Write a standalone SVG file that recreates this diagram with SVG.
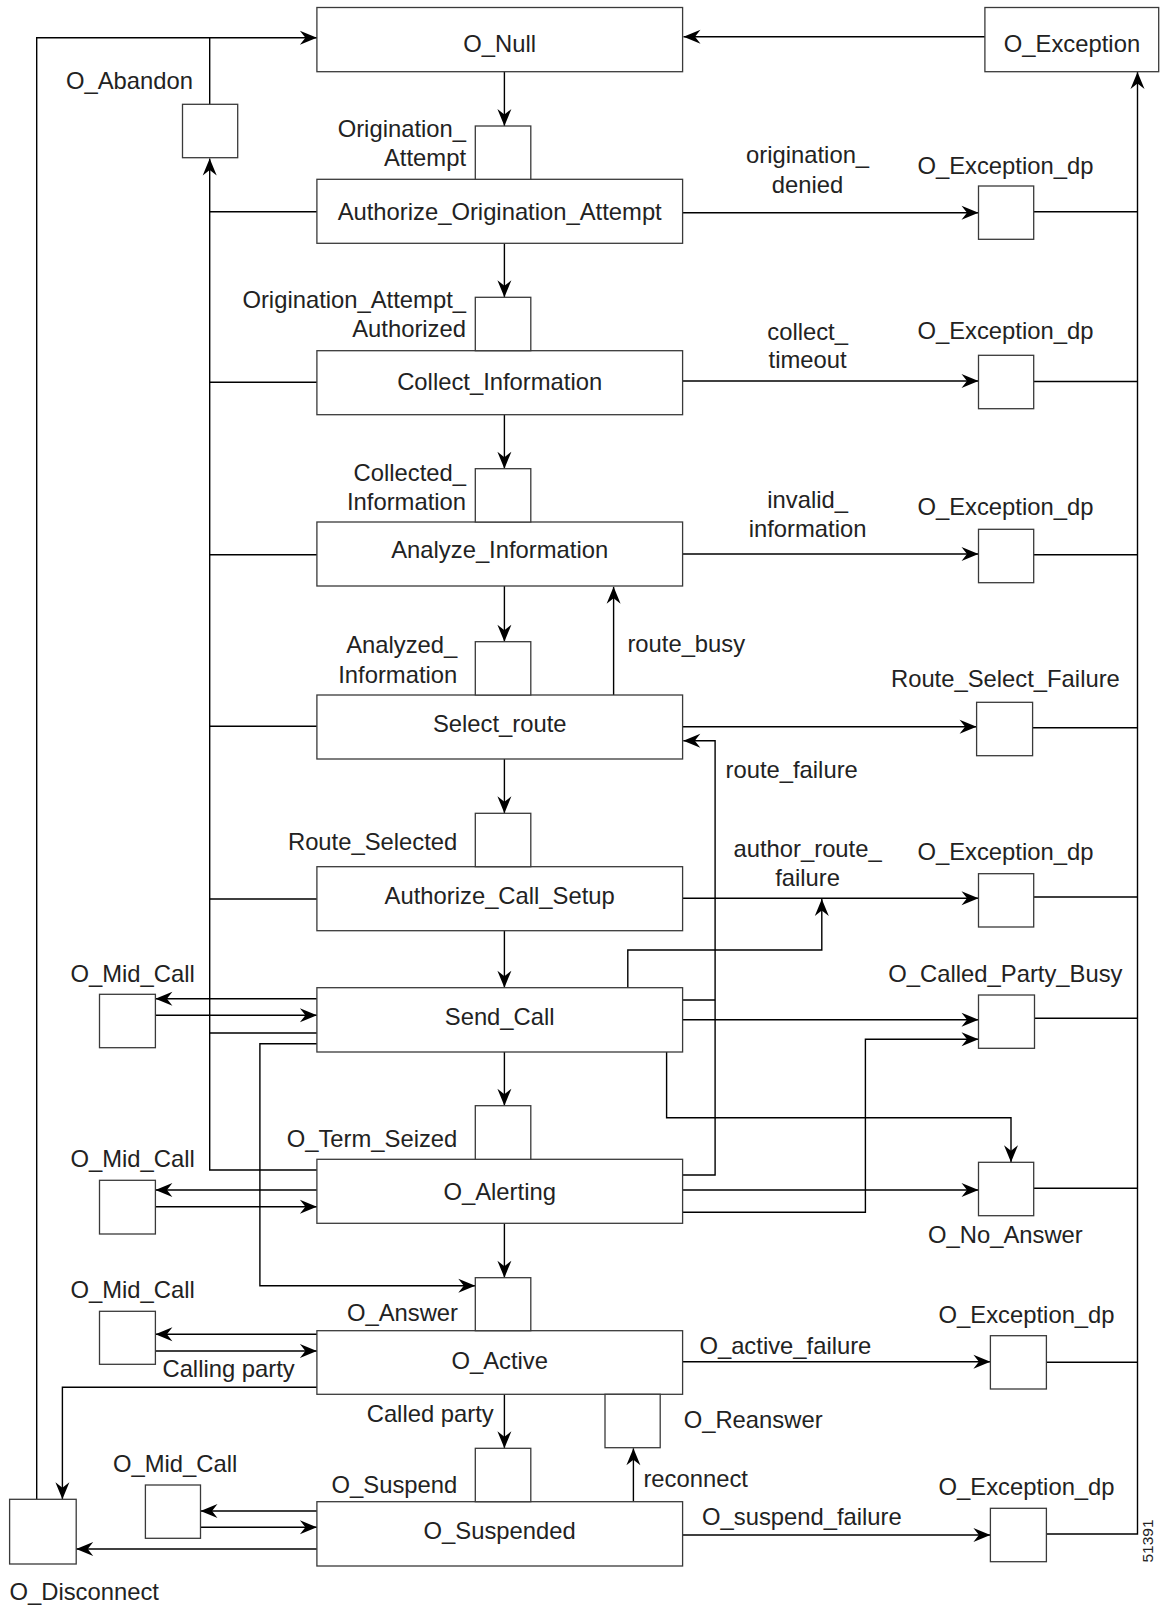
<svg xmlns="http://www.w3.org/2000/svg" width="1165" height="1606" viewBox="0 0 1165 1606">
<defs>
<marker id="ah" viewBox="-18 -8 19 16" refX="0" refY="0" markerWidth="19" markerHeight="16" markerUnits="userSpaceOnUse" orient="auto">
<path d="M0,0 L-17,-7 L-11.5,0 L-17,7 Z" fill="#000"/>
</marker>
</defs>
<style>
rect{fill:#fff;stroke:#3a3a3a;stroke-width:1.3}
text{font-family:"Liberation Sans",Arial,sans-serif;font-size:23.8px;fill:#222}
.c{text-anchor:middle}
.r{text-anchor:end}
#connectors path{fill:none;stroke:#000;stroke-width:1.4}
.a{marker-end:url(#ah)}
</style>
<rect x="0" y="0" width="1165" height="1606" style="fill:#fff;stroke:none"/>

<g id="connectors">
<path class="a" d="M984.9,36.7 H683.5"/>
<path class="a" d="M36.7,1499.3 V37.7 H316.9"/>
<path d="M209.7,104.3 V37.7"/>
<path class="a" d="M316.9,1170 H209.7 V158.5"/>
<path d="M209.7,211.7 H316.9 M209.7,382.3 H316.9 M209.7,554.7 H316.9 M209.7,726.3 H316.9 M209.7,899 H316.9 M209.7,1033 H316.9"/>
<path class="a" d="M504.4,71.7 V126"/>
<path class="a" d="M504.4,243.3 V297.3"/>
<path class="a" d="M504.4,414.7 V468.7"/>
<path class="a" d="M504.4,586 V641.7"/>
<path class="a" d="M504.4,759 V813.3"/>
<path class="a" d="M504.4,930.7 V987.7"/>
<path class="a" d="M504.4,1052 V1105.7"/>
<path class="a" d="M504.4,1223.3 V1277.7"/>
<path class="a" d="M504.4,1394.3 V1448.3"/>
<path class="a" d="M682.6,212.7 H978.5"/>
<path class="a" d="M682.6,381 H978.5"/>
<path class="a" d="M682.6,554 H978.5"/>
<path class="a" d="M682.6,726.7 H976.6"/>
<path class="a" d="M682.6,898.3 H978.5"/>
<path class="a" d="M682.6,1019.7 H978.5"/>
<path class="a" d="M682.6,1190 H978.5"/>
<path class="a" d="M682.6,1361.7 H990.4"/>
<path class="a" d="M682.6,1535 H990.4"/>
<path d="M1033.7,211.7 H1137.5 M1033.7,381.5 H1137.5 M1033.7,554.7 H1137.5 M1032.6,727.7 H1137.5 M1033.7,897 H1137.5 M1033.7,1018.3 H1137.5 M1033.7,1188.3 H1137.5 M1046.4,1362.3 H1137.5"/>
<path class="a" d="M1046.4,1534 H1137.5 V72"/>
<path class="a" d="M613.6,695 V586.8"/>
<path d="M682.6,1000 H715.1"/>
<path class="a" d="M682.6,1175 H715.1 V740.7 H683.3"/>
<path class="a" d="M627.8,987.7 V950 H821.8 V899"/>
<path class="a" d="M682.6,1212.3 H865.4 V1039.3 H978.5"/>
<path class="a" d="M666.6,1052 V1117.7 H1011 V1162.3"/>
<path class="a" d="M316.9,998.7 H155.4"/>
<path class="a" d="M155.4,1015.3 H316.9"/>
<path class="a" d="M316.9,1043.7 H259.9 V1285.7 H475.3"/>
<path class="a" d="M316.9,1190 H155.4"/>
<path class="a" d="M155.4,1206.7 H316.9"/>
<path class="a" d="M316.9,1334.3 H155.4"/>
<path class="a" d="M155.4,1351 H316.9"/>
<path class="a" d="M316.9,1387.3 H62.4 V1499.3"/>
<path class="a" d="M316.9,1511 H200.5"/>
<path class="a" d="M200.5,1527.3 H316.9"/>
<path class="a" d="M316.9,1549 H76.2"/>
<path class="a" d="M633.4,1501.7 V1448.3"/>
</g>

<g id="edge-labels">
<text class="c" x="807.6" y="163.3">origination_</text>
<text class="c" x="807.6" y="192.7">denied</text>
<text class="c" x="807.6" y="340">collect_</text>
<text class="c" x="807.6" y="368.3">timeout</text>
<text class="c" x="807.6" y="508.3">invalid_</text>
<text class="c" x="807.6" y="536.7">information</text>
<text class="c" x="807.6" y="856.7">author_route_</text>
<text class="c" x="807.6" y="886">failure</text>
<text x="627.4" y="651.7">route_busy</text>
<text x="725.5" y="778.3">route_failure</text>
<text class="c" x="228.6" y="1376.7">Calling party</text>
<text class="r" x="493.7" y="1421.7">Called party</text>
<text x="643.4" y="1487.3">reconnect</text>
<text x="699.4" y="1354">O_active_failure</text>
<text x="702" y="1525">O_suspend_failure</text>
</g>

<g id="O_Null"><rect x="316.9" y="7.5" width="365.7" height="64.2"/><text class="c" x="499.7" y="51.7">O_Null</text></g>
<g id="O_Exception"><rect x="984.9" y="7.5" width="173.8" height="64.2"/><text class="c" x="1072" y="51.7">O_Exception</text></g>
<g id="Authorize_Origination_Attempt"><rect x="316.9" y="179.3" width="365.7" height="64"/><text class="c" x="499.7" y="220">Authorize_Origination_Attempt</text></g>
<g id="Collect_Information"><rect x="316.9" y="350.7" width="365.7" height="64"/><text class="c" x="499.7" y="390">Collect_Information</text></g>
<g id="Analyze_Information"><rect x="316.9" y="522" width="365.7" height="64"/><text class="c" x="499.7" y="558.3">Analyze_Information</text></g>
<g id="Select_route"><rect x="316.9" y="695" width="365.7" height="64"/><text class="c" x="499.7" y="731.7">Select_route</text></g>
<g id="Authorize_Call_Setup"><rect x="316.9" y="866.7" width="365.7" height="64"/><text class="c" x="499.7" y="904">Authorize_Call_Setup</text></g>
<g id="Send_Call"><rect x="316.9" y="987.7" width="365.7" height="64.3"/><text class="c" x="499.7" y="1025.3">Send_Call</text></g>
<g id="O_Alerting"><rect x="316.9" y="1159.3" width="365.7" height="64"/><text class="c" x="499.7" y="1200">O_Alerting</text></g>
<g id="O_Active"><rect x="316.9" y="1330.7" width="365.7" height="63.6"/><text class="c" x="499.7" y="1369.3">O_Active</text></g>
<g id="O_Suspended"><rect x="316.9" y="1501.7" width="365.7" height="64.3"/><text class="c" x="499.7" y="1539.3">O_Suspended</text></g>

<g id="dp_Origination_Attempt"><rect x="475.3" y="126" width="55.5" height="53.3"/><text class="r" x="466" y="136.7">Origination_</text><text class="r" x="466" y="165.7">Attempt</text></g>
<g id="dp_Origination_Attempt_Authorized"><rect x="475.3" y="297.3" width="55.5" height="53.4"/><text class="r" x="466" y="308.3">Origination_Attempt_</text><text class="r" x="466" y="337.3">Authorized</text></g>
<g id="dp_Collected_Information"><rect x="475.3" y="468.7" width="55.5" height="53.3"/><text class="r" x="466" y="481">Collected_</text><text class="r" x="466" y="510">Information</text></g>
<g id="dp_Analyzed_Information"><rect x="475.3" y="641.7" width="55.5" height="53.3"/><text class="r" x="457.3" y="653.3">Analyzed_</text><text class="r" x="457.3" y="682.7">Information</text></g>
<g id="dp_Route_Selected"><rect x="475.3" y="813.3" width="55.5" height="53.4"/><text class="r" x="457.3" y="850">Route_Selected</text></g>
<g id="dp_O_Term_Seized"><rect x="475.3" y="1105.7" width="55.5" height="53.6"/><text class="r" x="457.3" y="1147.3">O_Term_Seized</text></g>
<g id="dp_O_Answer"><rect x="475.3" y="1277.7" width="55.5" height="53"/><text class="r" x="458" y="1320.7">O_Answer</text></g>
<g id="dp_O_Suspend"><rect x="475.3" y="1448.3" width="55.5" height="53.4"/><text class="r" x="457.3" y="1492.7">O_Suspend</text></g>
<g id="dp_O_Reanswer"><rect x="605" y="1394.3" width="55.2" height="53.4"/><text x="683.7" y="1427.7">O_Reanswer</text></g>

<g id="dp_O_Abandon"><rect x="182.5" y="104.3" width="55.2" height="53.4"/><text class="c" x="129.5" y="89.3">O_Abandon</text></g>
<g id="dp_O_Mid_Call_1"><rect x="99.5" y="994.3" width="55.9" height="53.4"/><text class="c" x="132.6" y="981.7">O_Mid_Call</text></g>
<g id="dp_O_Mid_Call_2"><rect x="99.5" y="1180.3" width="55.9" height="53.7"/><text class="c" x="132.6" y="1166.7">O_Mid_Call</text></g>
<g id="dp_O_Mid_Call_3"><rect x="99.5" y="1311.3" width="55.9" height="53"/><text class="c" x="132.6" y="1298.3">O_Mid_Call</text></g>
<g id="dp_O_Mid_Call_4"><rect x="145.4" y="1485" width="55.1" height="53.3"/><text class="c" x="175.1" y="1471.7">O_Mid_Call</text></g>
<g id="dp_O_Disconnect"><rect x="9.6" y="1499.3" width="66.6" height="64.7"/><text class="c" x="84.2" y="1600">O_Disconnect</text></g>

<g id="dp_O_Exception_dp_1"><rect x="978.5" y="186" width="55.2" height="53.3"/><text class="c" x="1005.4" y="174">O_Exception_dp</text></g>
<g id="dp_O_Exception_dp_2"><rect x="978.5" y="355.3" width="55.2" height="53.4"/><text class="c" x="1005.4" y="339.3">O_Exception_dp</text></g>
<g id="dp_O_Exception_dp_3"><rect x="978.5" y="529.3" width="55.2" height="53.4"/><text class="c" x="1005.4" y="515">O_Exception_dp</text></g>
<g id="dp_Route_Select_Failure"><rect x="976.6" y="702.3" width="56" height="53.4"/><text class="c" x="1005.4" y="687.3">Route_Select_Failure</text></g>
<g id="dp_O_Exception_dp_4"><rect x="978.5" y="873.7" width="55.2" height="53.3"/><text class="c" x="1005.4" y="860">O_Exception_dp</text></g>
<g id="dp_O_Called_Party_Busy"><rect x="978.5" y="995" width="56" height="53.3"/><text class="c" x="1005.4" y="981.7">O_Called_Party_Busy</text></g>
<g id="dp_O_No_Answer"><rect x="978.5" y="1162.3" width="55.2" height="53.4"/><text class="c" x="1005.4" y="1243.3">O_No_Answer</text></g>
<g id="dp_O_Exception_dp_5"><rect x="990.4" y="1335.7" width="56" height="53.3"/><text class="c" x="1026.6" y="1322.7">O_Exception_dp</text></g>
<g id="dp_O_Exception_dp_6"><rect x="990.4" y="1508.3" width="56" height="53.4"/><text class="c" x="1026.6" y="1495">O_Exception_dp</text></g>

<text class="c" transform="translate(1152.5,1541) rotate(-90)" style="font-size:15.5px">51391</text>
</svg>
